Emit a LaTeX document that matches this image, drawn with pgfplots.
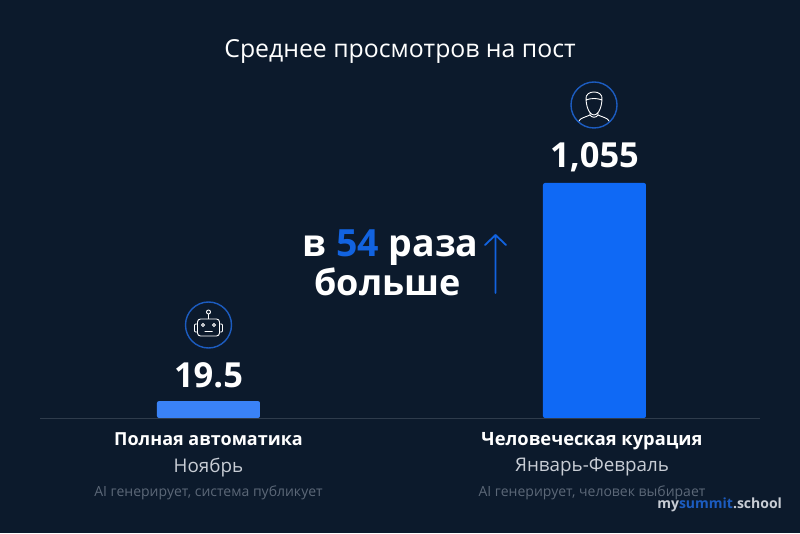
\documentclass[border=0pt]{standalone}
\usepackage{fontspec}
\setmainfont{Open Sans}
\usepackage{pgfplots}
\pgfplotsset{compat=1.18}
\definecolor{bg}{HTML}{0C1A2C}
\definecolor{barA}{HTML}{3A82F6}
\definecolor{barB}{HTML}{0F69F5}
\definecolor{accent}{HTML}{1263E0}
\definecolor{ring}{HTML}{1C5CC0}
\definecolor{subt}{HTML}{C8CDD5}
\definecolor{dim}{HTML}{5C6878}
\definecolor{base}{HTML}{2F3C4C}
\begin{document}
\begin{tikzpicture}[x=1pt,y=1pt]
\fill[bg] (0,0) rectangle (800,533);
\begin{axis}[
  at={(40pt,115pt)},anchor=south west,
  scale only axis,width=720pt,height=235pt,
  ymode=log,ymin=14.3,ymax=1055,log origin=infty,
  xmin=-0.4365,xmax=1.4288,
  axis y line=none,axis x line=bottom,
  axis line style={draw=base,line width=0.8pt,-},
  xtick={0,0.9935},
  xticklabels={
    {\fontsize{18}{20}\selectfont\bfseries\color{white}Полная автоматика\vphantom{у}\\[7pt]\fontsize{18.8}{20}\selectfont\mdseries\color{subt}Ноябрь\\[8pt]\fontsize{14}{16}\selectfont\color{dim}AI генерирует, система публикует},
    {\fontsize{18.3}{20}\selectfont\bfseries\color{white}Человеческая курация\\[7pt]\fontsize{18.8}{20}\selectfont\mdseries\color{subt}Январь-Февраль\\[8pt]\fontsize{14}{16}\selectfont\color{dim}AI генерирует, человек выбирает}},
  xticklabel style={align=center,anchor=north,yshift=-7pt},
  tick style={draw=none},
  ybar,bar width=103pt,bar shift=0pt,clip=false,
  nodes near coords,point meta=explicit symbolic,
  every node near coord/.append style={anchor=center,yshift=26pt,text=white,font=\fontsize{34.5}{36}\selectfont\bfseries},
]
\addplot[fill=barA,draw=none,rounded corners=2pt] coordinates {(0,19.5) [19.5]};
\addplot[fill=barB,draw=none,rounded corners=2pt] coordinates {(1,1055) [1,055]};
\end{axis}
\node[text=white,font=\fontsize{24.8}{26}\selectfont] at (400,481) {Среднее просмотров на пост};
\node[text=white,font=\fontsize{37.5}{38}\selectfont\bfseries,anchor=east] at (482,285) {в \textcolor{accent}{54} раза};
\node[text=white,font=\fontsize{36}{38}\selectfont\bfseries] at (387.5,251) {больше};
\draw[accent,line width=1.8pt,line cap=round,line join=round] (495.5,240)--(495.5,298) (485,288)--(495.5,298)--(506,288);
\node[anchor=east,font=\fontsize{14}{16}\selectfont\bfseries,text=subt] at (785.5,28) {my\textcolor{ring}{summit}.school};
% person icon
\begin{scope}[shift={(594,428)}]
\draw[ring,line width=1.4pt] (0,0) circle (23);
\draw[white,line width=0.9pt,line cap=round]
  (-8,5) .. controls (-7,-6) and (-3,-10) .. (0,-10) .. controls (3,-10) and (7,-6) .. (8,5)
  (-8,5) .. controls (-9,11) and (-4,13) .. (0,13) .. controls (4,13) and (9,11) .. (8,5)
  (-8,5) .. controls (-3,7) and (3,7) .. (8,5)
  (-4,-8) -- (-4,-10) .. controls (-8,-12) and (-14,-13) .. (-15,-16)
  (4,-8) -- (4,-10) .. controls (8,-12) and (14,-13) .. (15,-16)
  (-4,-10) .. controls (-2,-13) and (2,-13) .. (4,-10);
\end{scope}
% robot icon
\begin{scope}[shift={(208.5,208)}]
\draw[ring,line width=1.4pt] (0,0) circle (23);
\draw[white,line width=0.9pt,rounded corners=3pt] (-11,-11) rectangle (11,6);
\draw[white,line width=0.9pt] (0,6)--(0,11) (0,13) circle (2);
\draw[white,line width=0.9pt] (-5.5,0) circle (1.6) (5.5,0) circle (1.6) (-4,-6.5)--(4,-6.5);
\draw[white,line width=0.9pt,rounded corners=1pt] (-11,-7)--(-14,-7)--(-14,1)--(-11,1) (11,-7)--(14,-7)--(14,1)--(11,1);
\end{scope}
\end{tikzpicture}
\end{document}
